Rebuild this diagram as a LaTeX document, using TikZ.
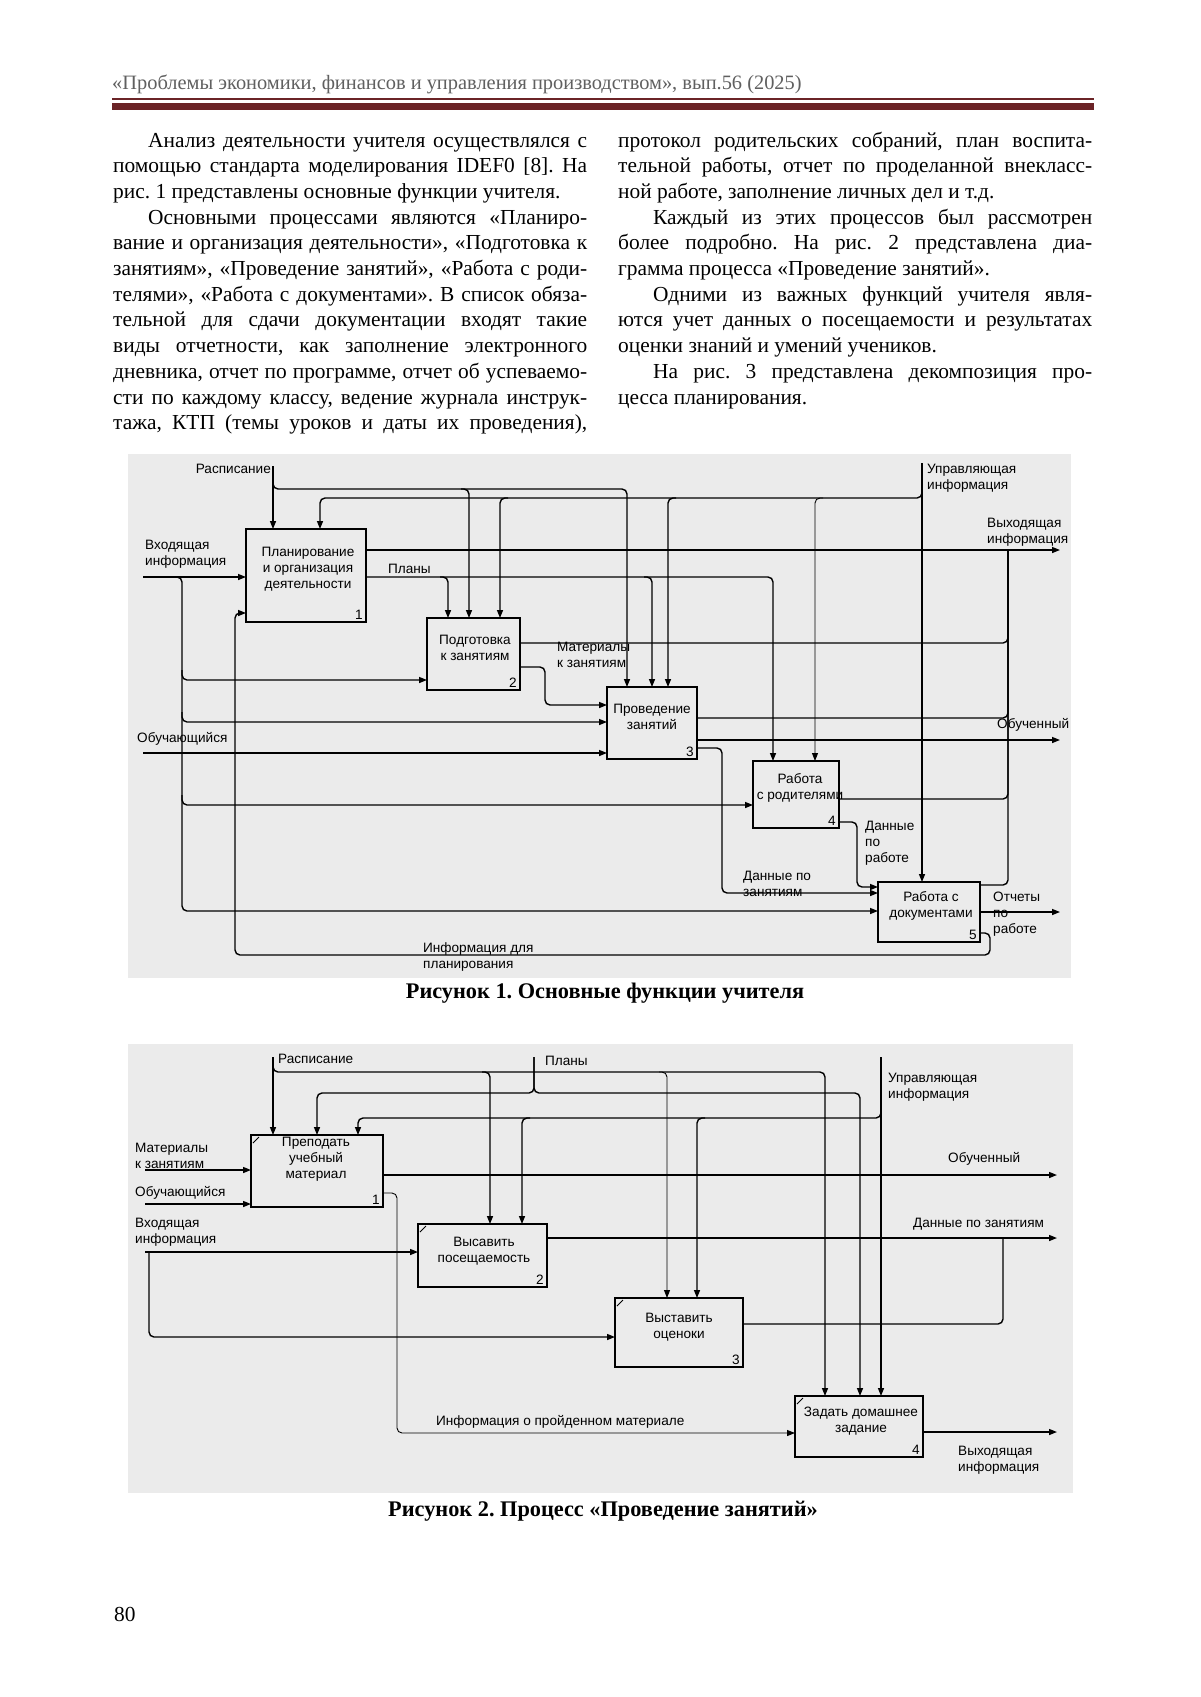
\documentclass[tikz,border=0pt]{standalone}
\usepackage{fontspec}
\setmainfont{Liberation Serif}
\newfontfamily\diafont{Liberation Sans}
\usetikzlibrary{arrows.meta}
\definecolor{hdrred}{HTML}{6B2427}
\definecolor{figbg}{HTML}{EBEBEB}
\definecolor{hdrgray}{HTML}{606060}
\frenchspacing
\newcommand\bodyfont{\fontsize{21.4}{25.7}\selectfont}
\newcommand\hdrfont{\fontsize{20.4}{25.7}\selectfont}
\newcommand\capfont{\bfseries\fontsize{22.3}{26}\selectfont}
\newcommand\dsz{\diafont\fontsize{13.6}{16}\selectfont}
\newcommand\jfull[1]{\makebox[474pt][s]{#1}}
\newcommand\jind[1]{\makebox[439pt][s]{#1}}
\begin{document}
\begin{tikzpicture}[x=1pt,y=-1pt,
  body/.style={anchor=base west, inner sep=0pt, font=\bodyfont},
  lbl/.style={font=\dsz, inner sep=0pt, align=left},
  boxtxt/.style={font=\dsz, inner sep=0pt, align=center, anchor=north},
  pbox/.style={draw, line width=2.2pt, inner sep=0pt, outer sep=0pt},
  num/.style={font=\dsz, inner sep=0pt, anchor=south east},
  flow/.style={line width=1.4pt, rounded corners=5pt},
  thinflow/.style={line width=0.9pt, rounded corners=5pt},
  arr/.style={flow, -{Triangle[length=8pt,width=6pt]}},
  tarr/.style={thinflow, -{Triangle[length=8pt,width=6pt]}}]
\useasboundingbox (0,0) rectangle (1200,1697);
\fill[white] (0,0) rectangle (1200,1697);

% ---------- header ----------
\node[anchor=base west, inner sep=0pt, text=hdrgray, font=\hdrfont] (hdr) at (112,89.5)
  {«Проблемы экономики, финансов и управления производством», вып.56 (2025)};
\fill[hdrred] (112,98) rectangle (1094,99.6);
\fill[hdrred] (112,102.5) rectangle (1094,110);

% ---------- left column ----------
\node[body] (l1) at (148,147) {\jind{Анализ деятельности учителя осуществлялся с}};
\node[body] (l2) at (113,172.7) {\jfull{помощью стандарта моделирования IDEF0 [8]. На}};
\node[body] (l3) at (113,198.4) {рис. 1 представлены основные функции учителя.};
\node[body] (l4) at (148,224.1) {\jind{Основными процессами являются «Планиро-}};
\node[body] (l5) at (113,249.8) {\jfull{вание и организация деятельности», «Подготовка к}};
\node[body] (l6) at (113,275.5) {\jfull{занятиям», «Проведение занятий», «Работа с роди-}};
\node[body] (l7) at (113,301.2) {\jfull{телями», «Работа с документами». В список обяза-}};
\node[body] (l8) at (113,326.9) {\jfull{тельной для сдачи документации входят такие}};
\node[body] (l9) at (113,352.6) {\jfull{виды отчетности, как заполнение электронного}};
\node[body] (l10) at (113,378.3) {\jfull{дневника, отчет по программе, отчет об успеваемо-}};
\node[body] (l11) at (113,404) {\jfull{сти по каждому классу, ведение журнала инструк-}};
\node[body] (l12) at (113,429.7) {\jfull{тажа, КТП (темы уроков и даты их проведения),}};

% ---------- right column ----------
\node[body] (r1) at (618,147) {\jfull{протокол родительских собраний, план воспита-}};
\node[body] (r2) at (618,172.7) {\jfull{тельной работы, отчет по проделанной внекласс-}};
\node[body] (r3) at (618,198.4) {ной работе, заполнение личных дел и т.д.};
\node[body] (r4) at (653,224.1) {\jind{Каждый из этих процессов был рассмотрен}};
\node[body] (r5) at (618,249.8) {\jfull{более подробно. На рис. 2 представлена диа-}};
\node[body] (r6) at (618,275.5) {грамма процесса «Проведение занятий».};
\node[body] (r7) at (653,301.2) {\jind{Одними из важных функций учителя явля-}};
\node[body] (r8) at (618,326.9) {\jfull{ются учет данных о посещаемости и результатах}};
\node[body] (r9) at (618,352.6) {оценки знаний и умений учеников.};
\node[body] (r10) at (653,378.3) {\jind{На рис. 3 представлена декомпозиция про-}};
\node[body] (r11) at (618,404) {цесса планирования.};

% ================= FIGURE 1 =================
\fill[figbg] (128,454) rectangle (1071,978);

\node[pbox, minimum width=120pt, minimum height=93pt] (b1) at (306,575.5) {};
\node[pbox, minimum width=93pt, minimum height=72pt] (b2) at (473.5,654) {};
\node[pbox, minimum width=90pt, minimum height=72pt] (b3) at (652,723) {};
\node[pbox, minimum width=86pt, minimum height=67pt] (b4) at (796,794.5) {};
\node[pbox, minimum width=102pt, minimum height=60pt] (b5) at (929,912) {};

\node[boxtxt] (t1) at (308,546.5) {Планирование\\и организация\\деятельности};
\node[boxtxt] (t2) at (475,634.5) {Подготовка\\к занятиям};
\node[boxtxt] (t3) at (652,703.5) {Проведение\\занятий};
\node[boxtxt] (t4) at (800,773.5) {Работа\\с родителями};
\node[boxtxt] (t5) at (931,891.5) {Работа с\\документами};
\node[num] (n1) at ([xshift=-3pt,yshift=2pt]b1.south east) {1};
\node[num] (n2) at ([xshift=-3pt,yshift=2pt]b2.south east) {2};
\node[num] (n3) at ([xshift=-3pt,yshift=2pt]b3.south east) {3};
\node[num] (n4) at ([xshift=-3pt,yshift=2pt]b4.south east) {4};
\node[num] (n5) at ([xshift=-3pt,yshift=2pt]b5.south east) {5};

% labels
\node[lbl, anchor=east] (la1) at (271,469) {Расписание};
\node[lbl, anchor=north west] (la2) at (927,463.5) {Управляющая\\информация};
\node[lbl, anchor=north west] (la3) at (987,517.5) {Выходящая\\информация};
\node[lbl, anchor=north west] (la4) at (145,539.5) {Входящая\\информация};
\node[lbl, anchor=west] (la5) at (388,569) {Планы};
\node[lbl, anchor=north west] (la6) at (557,642) {Материалы\\к занятиям};
\node[lbl, anchor=west] (la7) at (137,739) {Обучающийся};
\node[lbl, anchor=west] (la8) at (997,725) {Обученный};
\node[lbl, anchor=north west] (la9) at (865,820.5) {Данные\\по\\работе};
\node[lbl, anchor=north west] (la10) at (743,870.5) {Данные по\\занятиям};
\node[lbl, anchor=north west] (la11) at (993,891.5) {Отчеты\\по\\работе};
\node[lbl, anchor=north west] (la12) at (423,942.5) {Информация для\\планирования};

% free ends
\coordinate (rs1) at (273,466);
\coordinate (up1) at (922,463);
\coordinate (in1) at (143,577);
\coordinate (in2) at (143,753);
\coordinate (out1) at (1060,550);
\coordinate (out2) at (1060,740);
\coordinate (out3) at (1060,912);

% Расписание
\draw[arr] (rs1) -- (rs1 |- b1.north);
\draw[arr] (273,476) |- (627,489) -- (627,0 |- b3.north);
\draw[arr] (461,489) -| (469,0 |- b2.north);
% Управляющая информация
\draw[arr] (up1) -- (up1 |- b5.north);
\draw[arr] (922,486) |- (320,498) -- (320,0 |- b1.north);
\draw[arr] (508,498) -| (500,0 |- b2.north);
\draw[arr] (676,498) -| (668,0 |- b3.north);
\draw[tarr] (823,498) -| (815,0 |- b4.north);
% Планы
\draw[arr] (b1.east |- 0,577) -| (773,0 |- b4.north);
\draw[arr] (440,577) -| (448,0 |- b2.north);
\draw[arr] (644,577) -| (652,0 |- b3.north);
% Выходящая информация
\draw[arr] (b1.east |- out1) -- (out1);
\draw[flow] (b2.east |- 0,643) -| (1008,550);
\draw[flow] (b3.east |- 0,718) -| (1008,550);
\draw[flow] (b4.east |- 0,799) -| (1008,550);
\draw[flow] (b5.east |- 0,885) -| (1008,550);
% Материалы
\draw[arr] (b2.east |- 0,667) -| (545,705) -- (b3.west |- 0,705);
% Обученный
\draw[arr] (b3.east |- out2) -- (out2);
% Данные по занятиям
\draw[arr] (b3.east |- 0,748) -| (722,893) -- (b5.west |- 0,893);
% Данные по работе
\draw[arr] (b4.east |- 0,822) -| (857,887) -- (b5.west |- 0,887);
% Отчеты
\draw[arr] (b5.east |- out3) -- (out3);
% Информация для планирования
\draw[arr] (b5.east |- 0,933) -| (990,955) -| (235,613) -- (b1.west |- 0,613);
% Входящая информация
\draw[arr] (in1) -- (b1.west |- in1);
\draw[arr] (175,577) -| (182,911) -- (b5.west |- 0,911);
\draw[arr] (182,670) |- (b2.west |- 0,680);
\draw[arr] (182,712) |- (b3.west |- 0,722);
\draw[arr] (182,795) |- (b4.west |- 0,805);
% Обучающийся
\draw[arr] (in2) -- (b3.west |- in2);

\node[anchor=base, inner sep=0pt, font=\capfont] (cap1) at (605,998) {Рисунок 1. Основные функции учителя};

% ================= FIGURE 2 =================
\fill[figbg] (128,1044) rectangle (1073,1493);

\node[pbox, minimum width=132pt, minimum height=72pt] (c1) at (317,1171) {};
\node[pbox, minimum width=129pt, minimum height=63pt] (c2) at (482.5,1255.5) {};
\node[pbox, minimum width=128pt, minimum height=69pt] (c3) at (679,1332.5) {};
\node[pbox, minimum width=128pt, minimum height=61pt] (c4) at (859,1426.5) {};
\foreach \b in {c1,c2,c3,c4}{
  \draw[line width=1pt] ([xshift=2pt,yshift=-8pt]\b.north west) -- ([xshift=8pt,yshift=-2pt]\b.north west);
}
\node[boxtxt] (s1) at (316,1136.5) {Преподать\\учебный\\материал};
\node[boxtxt] (s2) at (484,1236.5) {Высавить\\посещаемость};
\node[boxtxt] (s3) at (679,1312.5) {Выставить\\оценоки};
\node[boxtxt] (s4) at (861,1406.5) {Задать домашнее\\задание};
\node[num] (m1) at ([xshift=-3pt,yshift=2pt]c1.south east) {1};
\node[num] (m2) at ([xshift=-3pt,yshift=2pt]c2.south east) {2};
\node[num] (m3) at ([xshift=-3pt,yshift=2pt]c3.south east) {3};
\node[num] (m4) at ([xshift=-3pt,yshift=2pt]c4.south east) {4};

\node[lbl, anchor=west] (lb1) at (278,1059) {Расписание};
\node[lbl, anchor=west] (lb2) at (545,1061) {Планы};
\node[lbl, anchor=north west] (lb3) at (888,1072.5) {Управляющая\\информация};
\node[lbl, anchor=north west] (lb4) at (135,1142.5) {Материалы\\к занятиям};
\node[lbl, anchor=west] (lb5) at (135,1193) {Обучающийся};
\node[lbl, anchor=north west] (lb6) at (135,1217.5) {Входящая\\информация};
\node[lbl, anchor=west] (lb7) at (948,1159) {Обученный};
\node[lbl, anchor=west] (lb8) at (913,1224) {Данные по занятиям};
\node[lbl, anchor=west] (lb9) at (436,1422) {Информация о пройденном материале};
\node[lbl, anchor=north west] (lb10) at (958,1445.5) {Выходящая\\информация};

\coordinate (rs2) at (273,1057);
\coordinate (pl2) at (534,1057);
\coordinate (up2) at (881,1057);
\coordinate (jin1) at (145,1170);
\coordinate (jin2) at (145,1204);
\coordinate (jin3) at (145,1252);
\coordinate (jo1) at (1057,1175);
\coordinate (jo2) at (1057,1238);
\coordinate (jo3) at (1057,1432);

% Расписание
\draw[arr] (rs2) -- (rs2 |- c1.north);
\draw[arr] (273,1064) |- (825,1072) -- (825,0 |- c4.north);
\draw[arr] (482,1072) -| (490,0 |- c2.north);
\draw[tarr] (659,1072) -| (667,0 |- c3.north);
% Планы
\draw[arr] (pl2) |- (317,1093) -- (317,0 |- c1.north);
\draw[arr] (pl2) |- (860,1093) -- (860,0 |- c4.north);
% Управляющая
\draw[arr] (up2) -- (up2 |- c4.north);
\draw[arr] (881,1108) |- (358,1118) -- (358,0 |- c1.north);
\draw[arr] (530,1118) -| (522,0 |- c2.north);
\draw[arr] (705,1118) -| (697,0 |- c3.north);
% inputs
\draw[arr] (jin1) -- (c1.west |- jin1);
\draw[arr] (jin2) -- (c1.west |- jin2);
\draw[arr] (jin3) -- (c2.west |- jin3);
\draw[arr] (149,1252) |- (c3.west |- 0,1337);
% outputs
\draw[arr] (c1.east |- jo1) -- (jo1);
\draw[tarr] (c1.east |- 0,1193) -| (397,1433) -- (c4.west |- 0,1433);
\draw[arr] (c2.east |- jo2) -- (jo2);
\draw[flow] (c3.east |- 0,1324) -| (1003,1238);
\draw[arr] (c4.east |- jo3) -- (jo3);

\node[anchor=base, inner sep=0pt, font=\capfont] (cap2) at (603,1516) {Рисунок 2. Процесс «Проведение занятий»};

\node[anchor=base west, inner sep=0pt, font=\bodyfont] (pg) at (114,1621) {80};
\end{tikzpicture}
\end{document}
